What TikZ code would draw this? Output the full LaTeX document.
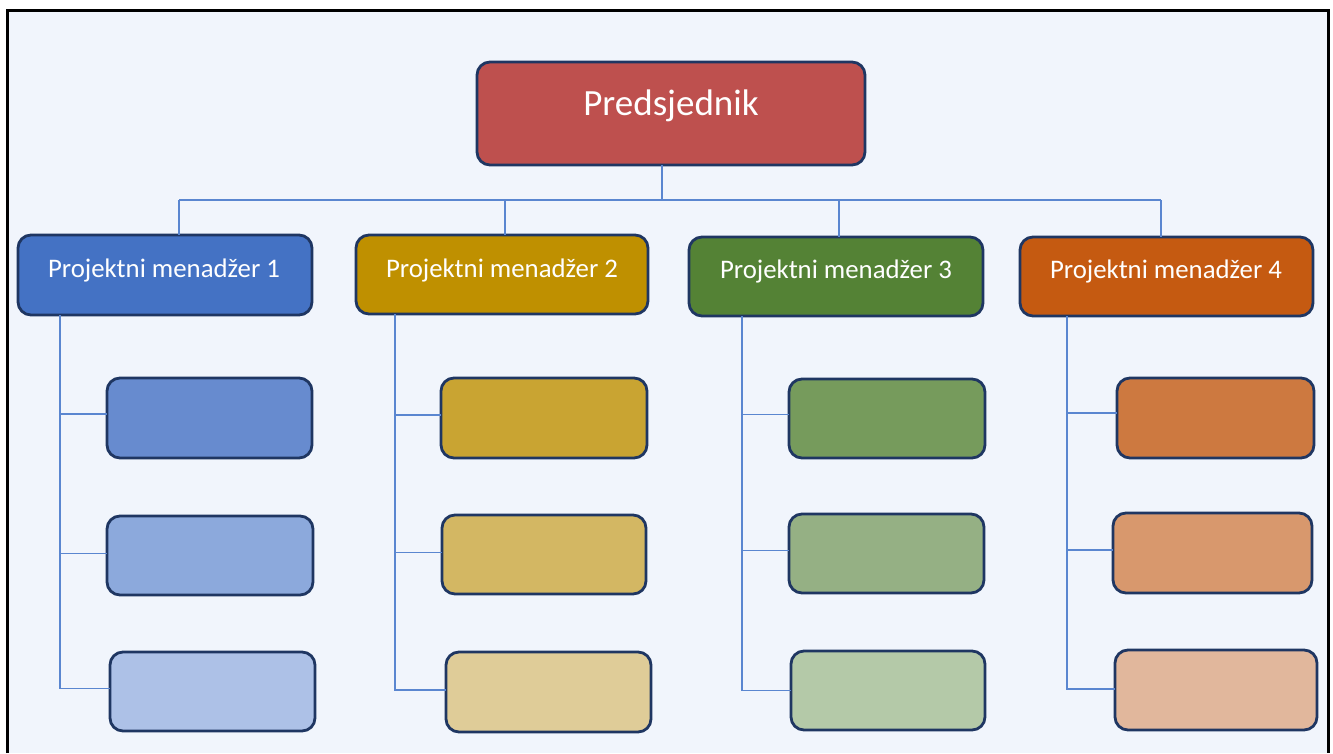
\documentclass[tikz,border=0pt]{standalone}
\usepackage{fontspec}
\setmainfont{Carlito}
\definecolor{bgc}{HTML}{F1F5FC}
\definecolor{bord}{HTML}{1F3662}
\definecolor{conn}{HTML}{5A86D0}
\definecolor{red0}{HTML}{BE504E}
\definecolor{blu0}{HTML}{4472C4}
\definecolor{blu1}{HTML}{678BCF}
\definecolor{blu2}{HTML}{8CA9DC}
\definecolor{blu3}{HTML}{ADC1E7}
\definecolor{gld0}{HTML}{BF9000}
\definecolor{gld1}{HTML}{C9A432}
\definecolor{gld2}{HTML}{D3B763}
\definecolor{gld3}{HTML}{DFCC98}
\definecolor{grn0}{HTML}{548235}
\definecolor{grn1}{HTML}{769B5C}
\definecolor{grn2}{HTML}{95B084}
\definecolor{grn3}{HTML}{B4C9A8}
\definecolor{org0}{HTML}{C55A11}
\definecolor{org1}{HTML}{CD7940}
\definecolor{org2}{HTML}{D8986D}
\definecolor{org3}{HTML}{E1B79C}
\tikzset{
  boxstyle/.style={draw=bord, line width=2.8pt, rounded corners=13pt, inner sep=0pt, outer sep=0pt},
  lbl/.style={anchor=base, text=white, font=\fontsize{26.8}{29}\selectfont, inner sep=0pt},
  link/.style={draw=conn, line width=1.4pt}
}
% \bx{name}{x1}{y1}{x2}{y2}{color}
\newcommand{\bx}[6]{%
  \node[boxstyle, fill=#6, minimum width={#4-#2}, minimum height={#5-#3}] (#1) at ({(#2+#4)/2},{(#3+#5)/2}) {};}
\begin{document}
\begin{tikzpicture}[x=1pt,y=-1pt]
\useasboundingbox (0,0) rectangle (1333,753);
\fill[white] (0,0) rectangle (1333,753);
\fill[bgc] (7,10) rectangle (1328,753);
\draw[black, line width=3pt] (7,753) -- (7,10) -- (1328,10) -- (1328,753);

\coordinate (t0) at (662,200);
\coordinate (b1) at (179,200);
\coordinate (b2) at (505,200);
\coordinate (b3) at (839,200);
\coordinate (b4) at (1161,200);
\coordinate (v1) at (60,0);
\coordinate (v2) at (395,0);
\coordinate (v3) at (742,0);
\coordinate (v4) at (1067,0);

% top box
\bx{P}{477}{62}{865}{165}{red0}
\node[lbl, font=\fontsize{37}{40}\selectfont] (Pt) at (671,115) {Predsjednik};

% managers
\bx{M1}{18}{235}{312}{315}{blu0}
\bx{M2}{356}{235}{648}{314}{gld0}
\bx{M3}{689}{237}{983}{316}{grn0}
\bx{M4}{1020}{237}{1313}{316}{org0}
\node[lbl] (M1t) at (164,277) {Projektni menadžer 1};
\node[lbl] (M2t) at (502,277) {Projektni menadžer 2};
\node[lbl] (M3t) at (836,278) {Projektni menadžer 3};
\node[lbl] (M4t) at (1166,278) {Projektni menadžer 4};

% children
\bx{C11}{107}{378}{312}{458}{blu1}
\bx{C12}{107}{516}{313}{595}{blu2}
\bx{C13}{110}{652}{315}{731}{blu3}
\bx{C21}{441}{378}{647}{458}{gld1}
\bx{C22}{442}{515}{646}{594}{gld2}
\bx{C23}{446}{652}{651}{732}{gld3}
\bx{C31}{789}{379}{985}{458}{grn1}
\bx{C32}{789}{514}{984}{593}{grn2}
\bx{C33}{791}{651}{985}{730}{grn3}
\bx{C41}{1117}{378}{1314}{458}{org1}
\bx{C42}{1113}{513}{1312}{593}{org2}
\bx{C43}{1115}{650}{1317}{730}{org3}

% top level links
\path[link] (t0 |- P.south) -- (t0);
\path[link] (b1) -- (b4);
\path[link] (b1) -- (b1 |- M1.north);
\path[link] (b2) -- (b2 |- M2.north);
\path[link] (b3) -- (b3 |- M3.north);
\path[link] (b4) -- (b4 |- M4.north);

% child links
\path[link] (v1 |- M1.south) |- ([yshift=3pt]C13.west);
\path[link] ([yshift=4pt]v1 |- C11.west) -- ([yshift=4pt]C11.west);
\path[link] ([yshift=2pt]v1 |- C12.west) -- ([yshift=2pt]C12.west);
\path[link] (v2 |- M2.south) |- ([yshift=2pt]C23.west);
\path[link] ([yshift=3pt]v2 |- C21.west) -- ([yshift=3pt]C21.west);
\path[link] ([yshift=2pt]v2 |- C22.west) -- ([yshift=2pt]C22.west);
\path[link] (v3 |- M3.south) |- (C33.west);
\path[link] ([yshift=4pt]v3 |- C31.west) -- ([yshift=4pt]C31.west);
\path[link] ([yshift=3pt]v3 |- C32.west) -- ([yshift=3pt]C32.west);
\path[link] (v4 |- M4.south) |- ([yshift=1pt]C43.west);
\path[link] ([yshift=5pt]v4 |- C41.west) -- ([yshift=5pt]C41.west);
\path[link] ([yshift=3pt]v4 |- C42.west) -- ([yshift=3pt]C42.west);
\end{tikzpicture}
\end{document}
